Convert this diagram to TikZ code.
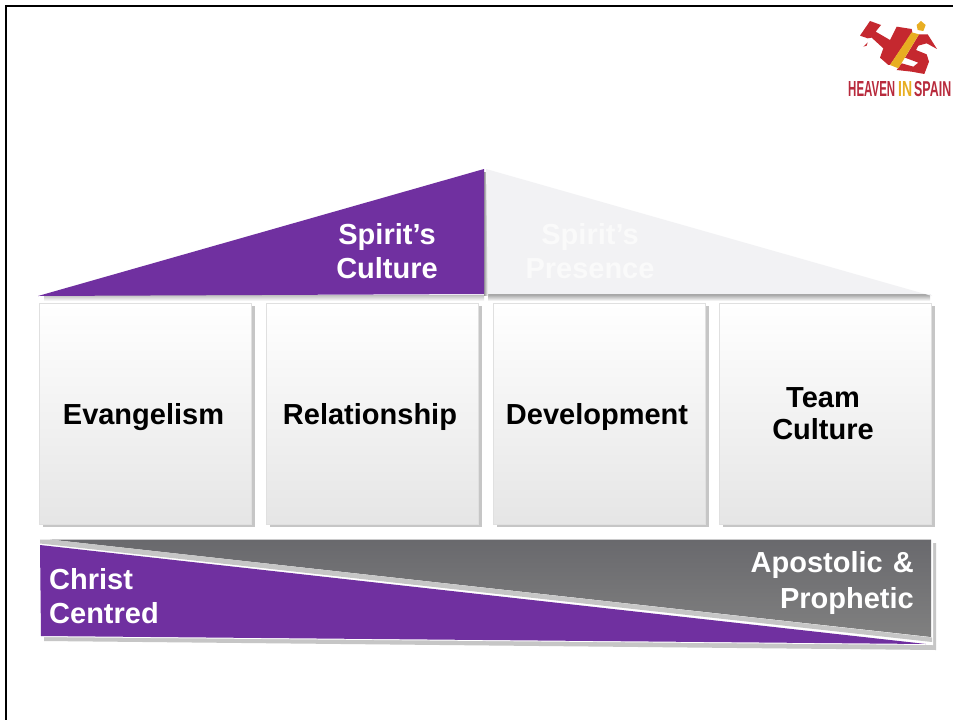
\documentclass[tikz,border=0pt]{standalone}
\usepackage{fontspec}
\setmainfont{Liberation Sans}
\definecolor{hpurple}{HTML}{7030A0}
\definecolor{hshadow}{HTML}{C6C6C6}
\definecolor{hred}{HTML}{C5282F}
\definecolor{hlogotxt}{HTML}{B82A3C}
\definecolor{hgold}{HTML}{E8AE22}
\definecolor{hroof}{HTML}{F2F2F4}
\definecolor{hgtop}{HTML}{69696D}
\definecolor{hgbot}{HTML}{808080}
\tikzset{
  panel/.style={draw=white!88!black,line width=1pt,top color=white,bottom color=white!90!black,inner sep=0pt,minimum width=212pt,minimum height=221pt},
  shadowbox/.style={fill=hshadow,inner sep=0pt,minimum width=212pt,minimum height=221pt},
  paneltext/.style={font=\fontsize{29}{32}\selectfont\bfseries,text=black,align=center,inner sep=0pt},
  lab/.style={font=\fontsize{29}{34}\selectfont\bfseries,text=white,align=center,inner sep=0pt},
  logotext/.style={font=\bfseries,inner sep=0pt,anchor=south west}
}
\begin{document}
\begin{tikzpicture}[x=1pt,y=-1pt]
\useasboundingbox (0,0) rectangle (953,720);
\fill[white] (0,0) rectangle (953,720);
% slide frame
\coordinate (fa) at (6,720);\coordinate (fb) at (6,6);\coordinate (fc) at (953,6);
\draw[black,line width=2.4pt] (fa) -- (fb) -- (fc);
% roof
\shade[top color=black!25,bottom color=white] (44,295) rectangle (484,301);
\shade[top color=black!38,bottom color=white] (488,294) rectangle (930,301);
\shade[left color=black!40,right color=white] (484,172) rectangle (488,295);
\fill[hpurple] (38,296) -- (484,169) -- (484,294) -- cycle;
\fill[hroof] (486,169) -- (932,296) -- (930,294) -- (488,294) -- cycle;
\node[lab] (sc) at (387,251) {Spirit’s\\Culture};
\node[lab,text=white!98!black] (sp) at (590,251) {Spirit’s\\Presence};
% panels
\foreach \n/\x in {s1/148.5,s2/375.5,s3/602.5,s4/829}{\node[shadowbox] (\n) at (\x,416.5) {};}
\node[panel] (ev) at (145,413.5) {};
\node[panel] (re) at (372,413.5) {};
\node[panel] (de) at (599,413.5) {};
\node[panel] (te) at (825.5,413.5) {};
\node[paneltext,anchor=base] (evt) at (143.5,424) {Evangelism};
\node[paneltext,anchor=base] (ret) at (370,424) {Relationship};
\node[paneltext,anchor=base] (det) at (597,424) {Development};
\node[paneltext,font=\fontsize{29}{32}\selectfont\bfseries] (tet) at (823,414) {Team\\Culture};
% base
\fill[hshadow] (44,543) -- (936,543) -- (936,650) -- (44,641) -- cycle;
\fill[white] (40,538) -- (933,538) -- (933,645) -- (40,637) -- cycle;
\shade[top color=hgtop,bottom color=hgbot] (50,539.5) -- (931,539.5) -- (931,637) -- cycle;
\fill[hshadow] (40,539.5) -- (50,539.5) -- (932,637.5) -- (932,642) -- (40,543.5) -- cycle;
\fill[hpurple] (40,545) -- (926,644) -- (41,636) -- cycle;
\node[lab,align=left,anchor=north west] (cc) at (49,568) {Christ\\Centred};
\node[lab,align=right,anchor=north east,font=\fontsize{29}{36}\selectfont\bfseries] (ap) at (914,551) {Apostolic\kern2pt\ \&\\Prophetic};
% logo
\begin{scope}[shift={(855,15)},x=0.3333pt,y=-0.3333pt]
\fill[hred] (15,62) -- (45,18) -- (78,30) -- (62,50) -- (105,75) -- (125,35) -- (170,42) -- (172,52) -- (105,150) -- (100,150) -- (75,128) -- (85,100) -- (50,68) -- (38,70) -- cycle;
\fill[hred] (25,95) -- (38,82) -- (35,92) -- cycle;
\fill[hred] (192,58) -- (218,58) -- (246,102) -- (215,85) -- (190,92) -- (183,105) -- (215,118) -- (222,140) -- (208,177) -- (170,170) -- (125,165) -- (140,145) -- (175,155) -- (190,143) -- (150,128) -- cycle;
\fill[hgold] (105,150) -- (170,52) -- (192,58) -- (130,160) -- cycle;
\fill[hgold] (185,30) -- (198,18) -- (212,30) -- (205,48) -- (188,45) -- cycle;
\end{scope}
\node[logotext,text=hlogotxt] (l1) at (848,97) {\resizebox{47pt}{15pt}{HEAVEN}};
\node[logotext,text=hgold] (l2) at (898,97) {\resizebox{14pt}{15pt}{IN}};
\node[logotext,text=hlogotxt] (l3) at (914,97) {\resizebox{37pt}{15pt}{SPAIN}};
\end{tikzpicture}
\end{document}
